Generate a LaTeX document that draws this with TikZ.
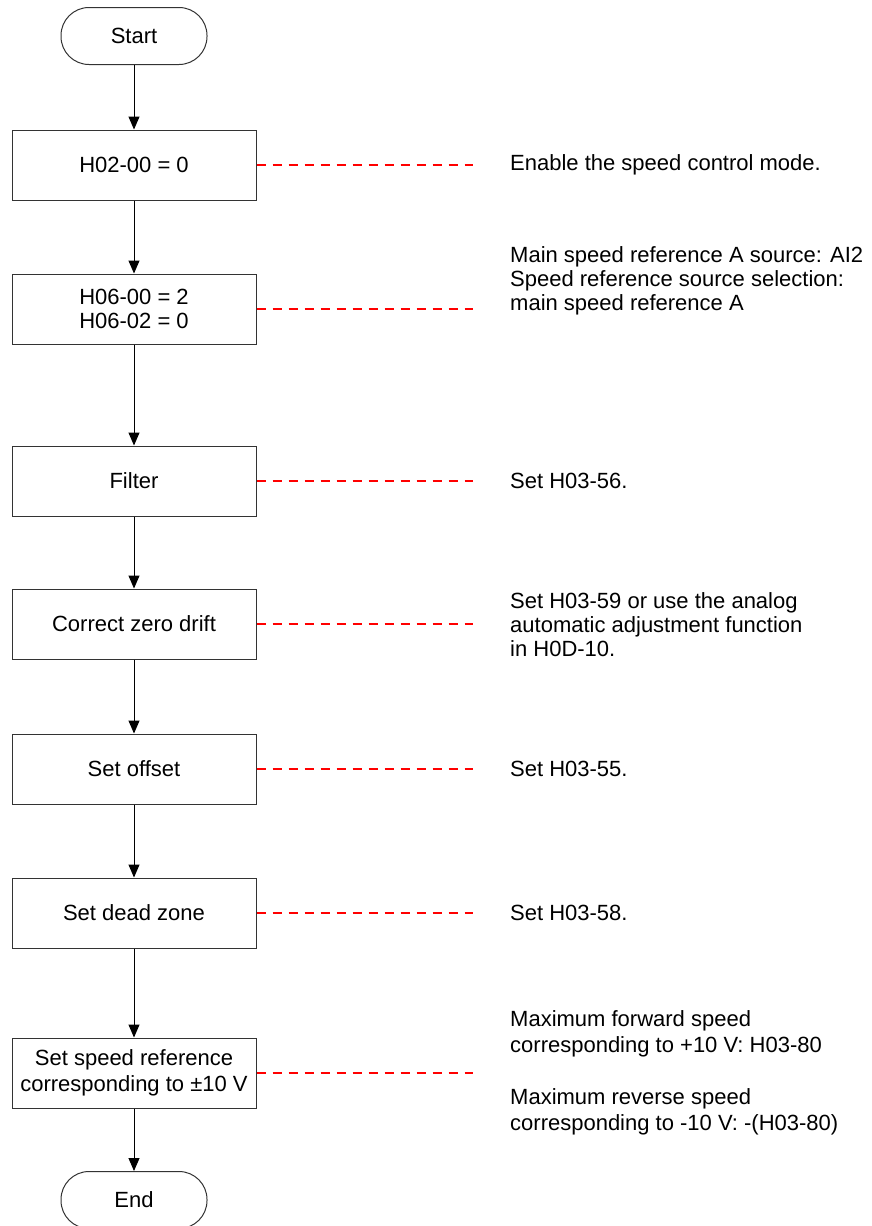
\documentclass[tikz,border=0pt]{standalone}
\usepackage{fontspec}
\setmainfont{Liberation Sans}
\usetikzlibrary{arrows.meta}

\tikzset{
  paso/.style={draw=black!80, line width=1pt, minimum width=244pt, minimum height=70pt, align=center, inner sep=2pt},
  extremo/.style={draw=black!80, line width=1pt, rounded corners=28pt, minimum width=146pt, minimum height=57pt},
  nota/.style={anchor=west, align=left, inner sep=0pt},
  guia/.style={draw=red, dash pattern=on 9pt off 7pt, line width=1.3pt},
  flujo/.style={->, line width=1pt},
}

\begin{document}
\begin{tikzpicture}[x=1pt, y=-1pt, >={Triangle[length=13pt,width=11pt]}, font=\fontsize{22}{24}\selectfont]
    \useasboundingbox (0,0) rectangle (871,1226);

    % Pasos del diagrama
    \node[extremo] (inicio) at (134,36) {Start};
    \node[paso] (p1) at (134,165) {H02-00 = 0};
    \node[paso] (p2) at (134,309) {H06-00 = 2\\H06-02 = 0};
    \node[paso] (p3) at (134,481) {Filter};
    \node[paso] (p4) at (134,624) {Correct zero drift};
    \node[paso] (p5) at (134,769) {Set offset};
    \node[paso] (p6) at (134,913) {Set dead zone};
    \node[paso] (p7) at (134,1073) {Set speed reference\\[2pt]corresponding to ±10 V};
    \node[extremo] (fin) at (134,1200) {End};

    % Flechas
    \draw[flujo] (inicio) -- (p1);
    \foreach \a/\b in {p1/p2, p2/p3, p3/p4, p4/p5, p5/p6, p6/p7, p7/fin}
        \draw[flujo] (\a) -- (\b);

    % Guias discontinuas
    \foreach \i/\y in {1/165, 2/309, 3/481, 4/624, 5/769, 6/913, 7/1073} {
        \coordinate (g\i) at (473,\y);
        \draw[guia] (p\i.east) -- (g\i);
    }

    % Notas
    \node[nota] (n1) at (510,165) {Enable the speed control mode.};
    \node[nota] (n2) at (510,281) {Main speed reference A source: AI2\\Speed reference source selection:\\main speed reference A};
    \node[nota] (n3) at (510,481) {Set H03-56.};
    \node[nota] (n4) at (510,625) {Set H03-59 or use the analog\\automatic adjustment function\\in H0D-10.};
    \node[nota] (n5) at (510,769) {Set H03-55.};
    \node[nota] (n6) at (510,913) {Set H03-58.};
    \node[nota] (n7) at (510,1073) {Maximum forward speed\\[2pt]corresponding to +10 V: H03-80\\[28pt]Maximum reverse speed\\[2pt]corresponding to -10 V: -(H03-80)};
\end{tikzpicture}
\end{document}
